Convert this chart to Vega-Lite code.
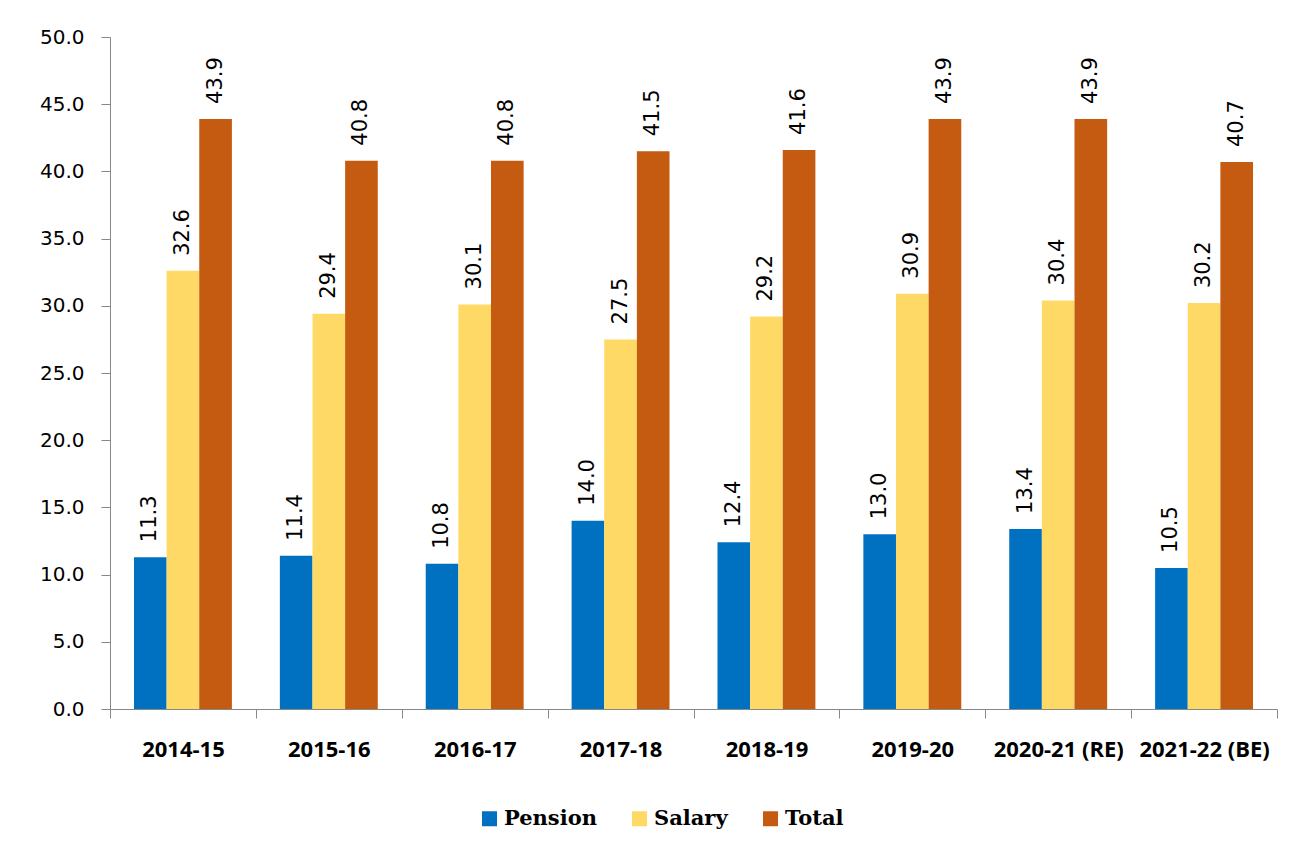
{
  "$schema": "https://vega.github.io/schema/vega-lite/v6.json",
  "width": 1167,
  "height": 672,
  "autosize": {"type": "none"},
  "padding": {"left": 110, "top": 37, "right": 35, "bottom": 147},
  "background": "white",
  "config": {"view": {"stroke": null}},
  "data": {
    "values": [
      {"year": "2014-15", "series": "Pension", "value": 11.3},
      {"year": "2014-15", "series": "Salary", "value": 32.6},
      {"year": "2014-15", "series": "Total", "value": 43.9},
      {"year": "2015-16", "series": "Pension", "value": 11.4},
      {"year": "2015-16", "series": "Salary", "value": 29.4},
      {"year": "2015-16", "series": "Total", "value": 40.8},
      {"year": "2016-17", "series": "Pension", "value": 10.8},
      {"year": "2016-17", "series": "Salary", "value": 30.1},
      {"year": "2016-17", "series": "Total", "value": 40.8},
      {"year": "2017-18", "series": "Pension", "value": 14.0},
      {"year": "2017-18", "series": "Salary", "value": 27.5},
      {"year": "2017-18", "series": "Total", "value": 41.5},
      {"year": "2018-19", "series": "Pension", "value": 12.4},
      {"year": "2018-19", "series": "Salary", "value": 29.2},
      {"year": "2018-19", "series": "Total", "value": 41.6},
      {"year": "2019-20", "series": "Pension", "value": 13.0},
      {"year": "2019-20", "series": "Salary", "value": 30.9},
      {"year": "2019-20", "series": "Total", "value": 43.9},
      {"year": "2020-21 (RE)", "series": "Pension", "value": 13.4},
      {"year": "2020-21 (RE)", "series": "Salary", "value": 30.4},
      {"year": "2020-21 (RE)", "series": "Total", "value": 43.9},
      {"year": "2021-22 (BE)", "series": "Pension", "value": 10.5},
      {"year": "2021-22 (BE)", "series": "Salary", "value": 30.2},
      {"year": "2021-22 (BE)", "series": "Total", "value": 40.7}
    ]
  },
  "encoding": {
    "x": {
      "field": "year",
      "type": "nominal",
      "sort": null,
      "scale": {"paddingInner": 0, "paddingOuter": 0},
      "axis": {
        "title": null,
        "labelAngle": 0,
        "labelFont": "Open Sans",
        "labelFontWeight": "bold",
        "labelFontSize": 22,
        "labelColor": "#000000",
        "labelPadding": 21,
        "labelOverlap": false,
        "tickBand": "extent",
        "tickSize": 9,
        "tickColor": "#888888",
        "domainColor": "#888888",
        "grid": false
      }
    },
    "xOffset": {"field": "series", "type": "nominal", "sort": ["Pension", "Salary", "Total"], "scale": {"paddingInner": 0, "paddingOuter": 0.735}},
    "y": {
      "field": "value",
      "type": "quantitative",
      "scale": {"domain": [0, 50], "nice": false},
      "axis": {
        "title": null,
        "values": [0, 5, 10, 15, 20, 25, 30, 35, 40, 45, 50],
        "format": ".1f",
        "labelFont": "DejaVu Sans",
        "labelFontSize": 20,
        "labelColor": "#000000",
        "labelPadding": 17,
        "tickSize": 9,
        "tickColor": "#888888",
        "domainColor": "#888888",
        "grid": false
      }
    }
  },
  "layer": [
    {
      "mark": {"type": "bar"},
      "encoding": {
        "color": {
          "field": "series",
          "type": "nominal",
          "sort": ["Pension", "Salary", "Total"],
          "scale": {"domain": ["Pension", "Salary", "Total"], "range": ["#0070C0", "#FFD966", "#C55A11"]},
          "legend": {
            "title": null,
            "orient": "none",
            "legendX": 369,
            "legendY": 771,
            "direction": "horizontal",
            "symbolType": "square",
            "symbolSize": 225,
            "symbolStrokeWidth": 0,
            "labelFont": "DejaVu Serif",
            "labelFontWeight": "bold",
            "labelFontSize": 21,
            "labelColor": "#000000",
            "labelOffset": 4,
            "columnPadding": 32
          }
        }
      }
    },
    {
      "mark": {"type": "text", "angle": 270, "align": "left", "baseline": "middle", "dx": 15, "font": "DejaVu Sans", "fontSize": 21, "color": "#000000"},
      "encoding": {
        "text": {"field": "value", "type": "quantitative", "format": ".1f"}
      }
    }
  ]
}
